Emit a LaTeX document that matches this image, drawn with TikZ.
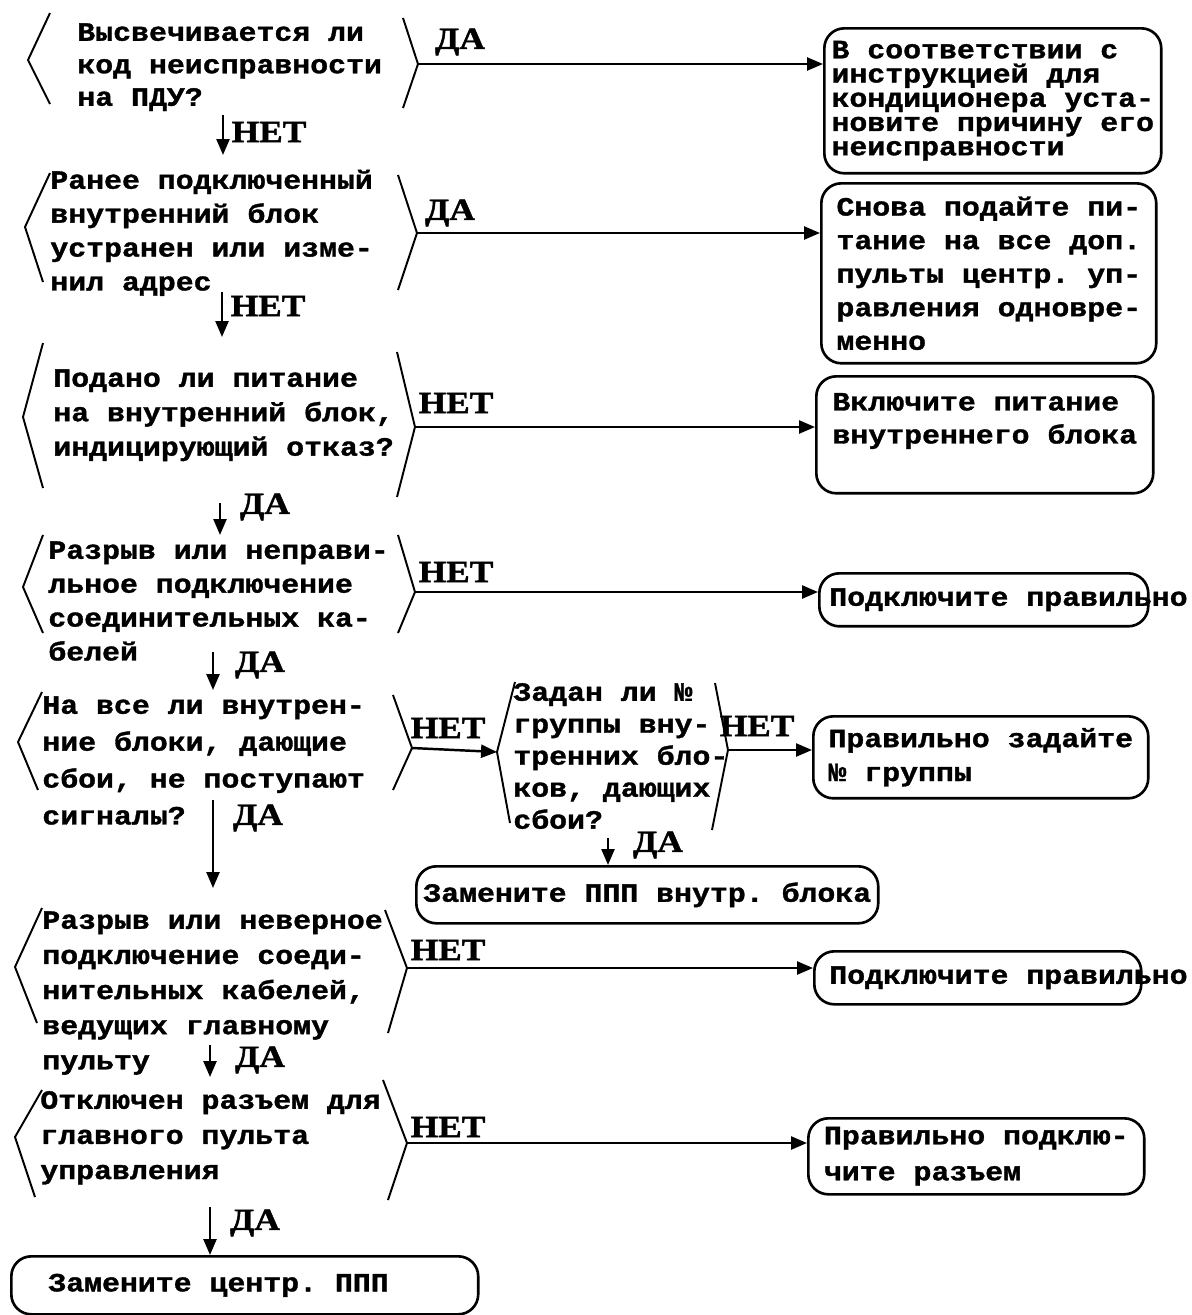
\documentclass[tikz,border=0pt]{standalone}
\usepackage{fontspec}
\newfontfamily\mono{Liberation Mono}[FakeStretch=1.133, FakeBold=1.3, WordSpace={1,0,0}]
\newfontfamily\labfont{Liberation Serif}[FakeStretch=1.15, FakeBold=1.5]
\usetikzlibrary{arrows.meta}
\newcommand{\tf}[1]{\mono\bfseries\fontsize{15}{#1}\selectfont\frenchspacing\lineskiplimit=-30pt\relax}
\newcommand{\fl}{\rule{0pt}{12.75pt}}
\newcommand{\nsp}{\spaceskip=0pt\xspaceskip=0pt\relax}
\begin{document}
\begin{tikzpicture}[x=0.02cm,y=-0.02cm,
  box/.style={draw, line width=1.5pt, rounded corners=0.4cm, anchor=north west, align=left, inner xsep=2pt},
  dtext/.style={anchor=north west, inner sep=0pt, align=left},
  brk/.style={line width=1.1pt, line join=round},
  arr/.style={line width=1.4pt, -{Triangle[length=0.32cm,width=0.26cm]}},
  lab/.style={font={\labfont\bfseries\fontsize{17.5}{20}\selectfont}, inner sep=0pt}]
\fill[white] (0,0) rectangle (1191,1315);
\path[use as bounding box] (0,0) rectangle (1191,1315);

% ---------- decision 1 ----------
\node[dtext, font={\tf{18.5}}] (d1) at (77,18) {\fl Высвечивается ли\\код неисправности\\на ПДУ?};
\coordinate (d1r) at (418,64);
\draw[brk] (50,13) -- (28,60) -- (50,104);
\draw[brk] (403,18) -- (d1r) -- (403,108);
\node[box, minimum width=6.74cm, minimum height=2.9cm, font={\tf{13.8}}] (b1) at (823,27)
  {В соответствии с\\инструкцией для\\кондиционера уста-\\новите причину его\\неисправности};
\draw[arr] (d1r) -- (d1r -| b1.west);
\node[lab] (l1) at (460,42) {ДА};
\coordinate (a1s) at (223,115);
\coordinate (a1e) at (223,155);
\draw[arr] (a1s) -- (a1e);
\node[lab] (l1n) at (269,132) {НЕТ};

% ---------- decision 2 ----------
\node[dtext, font={\tf{19.3}}] (d2) at (50,166) {\fl Ранее подключенный\\внутренний блок\\устранен или изме-\\нил адрес};
\coordinate (d2r) at (417,233);
\draw[brk] (50,173) -- (25,227) -- (43,282);
\draw[brk] (398,175) -- (d2r) -- (398,290);
\node[box, minimum width=6.7cm, minimum height=3.6cm, font={\tf{19.1}}] (b2) at (820,182)
  {Снова подайте пи-\\тание на все доп.\\пульты центр. уп-\\равления одновре-\\менно};
\draw[arr] (d2r) -- (d2r -| b2.west);
\node[lab] (l2) at (450,213) {ДА};
\coordinate (a2s) at (222,292);
\coordinate (a2e) at (222,337);
\draw[arr] (a2s) -- (a2e);
\node[lab] (l2n) at (268,306) {НЕТ};

% ---------- decision 3 ----------
\node[dtext, font={\tf{19.6}}] (d3) at (53,364) {\fl Подано ли питание\\на внутренний блок,\\индицирующий отказ?};
\coordinate (d3r) at (415,427);
\draw[brk] (43,343) -- (23,417) -- (43,488);
\draw[brk] (397,352) -- (d3r) -- (397,497);
\node[box, minimum width=6.74cm, minimum height=2.34cm, font={\tf{18.8}}] (b3) at (815,375)
  {Включите питание\\внутреннего блока\\\mbox{}};
\draw[arr] (d3r) -- (d3r -| b3.west);
\node[lab] (l3) at (456,403) {НЕТ};
\coordinate (a3s) at (220,503);
\coordinate (a3e) at (220,535);
\draw[arr] (a3s) -- (a3e);
\node[lab] (l3d) at (265,507) {ДА};

% ---------- decision 4 ----------
\node[dtext, font={\tf{19.3}}] (d4) at (48,536) {\fl Разрыв или неправи-\\льное подключение\\соединительных ка-\\белей};
\coordinate (d4r) at (415,592);
\draw[brk] (43,535) -- (23,587) -- (43,633);
\draw[brk] (398,535) -- (d4r) -- (398,633);
\node[box, minimum width=6.58cm, minimum height=1.06cm, text width=6.18cm, inner xsep=0.2cm, font={\tf{19}}] (b4) at (818,572)
  {\nsp\mbox{Подключите правильно}};
\draw[arr] (d4r) -- (d4r -| b4.west);
\node[lab] (l4) at (456,572) {НЕТ};
\coordinate (a4s) at (213,652);
\coordinate (a4e) at (213,690);
\draw[arr] (a4s) -- (a4e);
\node[lab] (l4d) at (260,665) {ДА};

% ---------- decision 5 ----------
\node[dtext, font={\tf{21}}] (d5) at (42,691) {\fl На все ли внутрен-\\ние блоки, дающие\\сбои, не поступают\\сигналы?};
\coordinate (d5r) at (412,748);
\draw[brk] (42,692) -- (18,742) -- (38,790);
\draw[brk] (393,695) -- (d5r) -- (393,790);
\node[lab] (l5) at (448,728) {НЕТ};
\coordinate (a5s) at (213,800);
\coordinate (a5e) at (213,888);
\draw[arr] (a5s) -- (a5e);
\node[lab] (l5d) at (258,818) {ДА};

% ---------- decision 6 ----------
\node[dtext, font={\tf{18.2}}] (d6) at (513,678) {\fl Задан ли №\\группы вну-\\тренних бло-\\ков, дающих\\сбои?};
\coordinate (d6l) at (497,752);
\coordinate (d6r) at (728,750);
\draw[brk] (515,682) -- (d6l) -- (510,823);
\draw[brk] (715,683) -- (d6r) -- (712,830);
\draw[arr] (d5r) -- (d6l);
\node[box, minimum width=6.7cm, minimum height=1.64cm, font={\tf{19.3}}] (b6) at (812,715)
  {Правильно задайте\\№ группы};
\draw[arr] (d6r) -- (d6r -| b6.west);
\node[lab] (l6) at (757,726) {НЕТ};
\node[box, minimum width=9.24cm, minimum height=1.14cm, font={\tf{19}}] (b7) at (415,865)
  {Замените ППП внутр. блока};
\coordinate (a6s) at (608,838);
\draw[arr] (a6s) -- (a6s |- b7.north);
\node[lab] (l6d) at (658,845) {ДА};

% ---------- decision 7 ----------
\node[dtext, font={\tf{20}}] (d7) at (42,906) {\fl Разрыв или неверное\\подключение соеди-\\нительных кабелей,\\ведущих главному\\пульту};
\coordinate (d7r) at (407,968);
\draw[brk] (42,908) -- (15,967) -- (37,1023);
\draw[brk] (385,910) -- (d7r) -- (388,1033);
\node[box, minimum width=6.54cm, minimum height=1.06cm, text width=5.94cm, inner xsep=0.3cm, font={\tf{19}}] (b8) at (813,950)
  {\nsp\mbox{Подключите правильно}};
\draw[arr] (d7r) -- (d7r -| b8.west);
\node[lab] (l7) at (448,950) {НЕТ};
\coordinate (a7s) at (210,1045);
\coordinate (a7e) at (210,1077);
\draw[arr] (a7s) -- (a7e);
\node[lab] (l7d) at (260,1060) {ДА};

% ---------- decision 8 ----------
\node[dtext, font={\tf{20}}] (d8) at (40,1086) {\fl Отключен разъем для\\главного пульта\\управления};
\coordinate (d8r) at (407,1143);
\draw[brk] (42,1090) -- (15,1137) -- (35,1197);
\draw[brk] (383,1080) -- (d8r) -- (388,1200);
\node[box, minimum width=6.72cm, minimum height=1.52cm, font={\tf{20.5}}] (b9) at (807,1117)
  {Правильно подклю-\\чите разъем};
\draw[arr] (d8r) -- (d8r -| b9.west);
\node[lab] (l8) at (448,1127) {НЕТ};
\node[box, minimum width=9.34cm, minimum height=1.16cm, text width=7.86cm, inner xsep=0.74cm, font={\tf{19}}] (b10) at (10,1255)
  {\nsp Замените центр. ППП};
\coordinate (a8s) at (210,1207);
\draw[arr] (a8s) -- (a8s |- b10.north);
\node[lab] (l8d) at (255,1223) {ДА};
\end{tikzpicture}
\end{document}
